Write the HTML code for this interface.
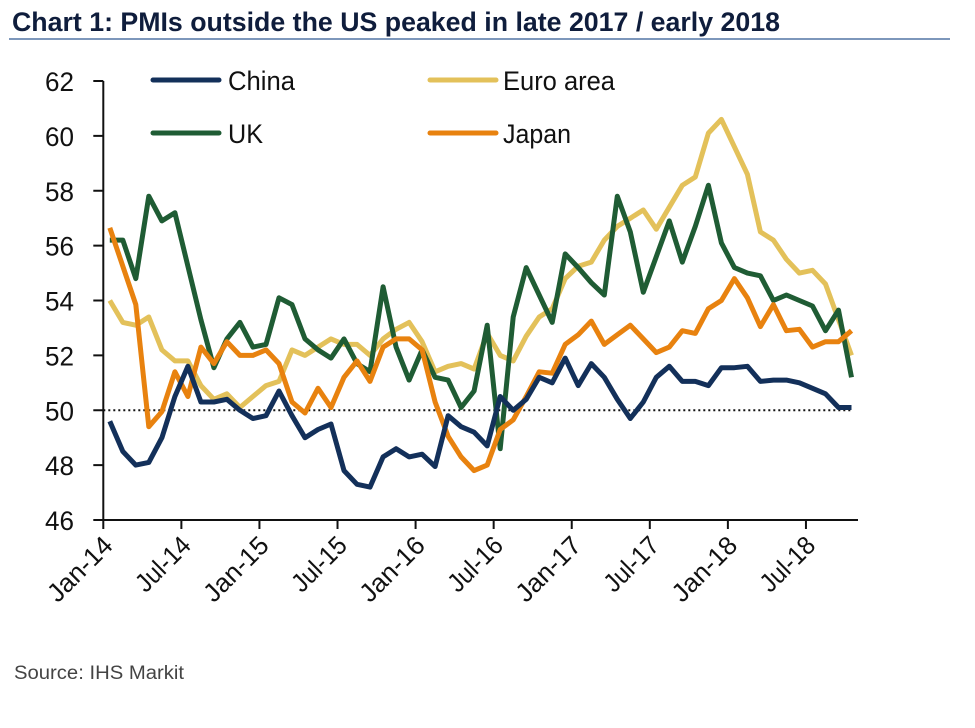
<!DOCTYPE html>
<html><head><meta charset="utf-8">
<style>
html,body{margin:0;padding:0;background:#fff;}
svg{display:block;}
text{font-family:"Liberation Sans Narrow","Liberation Sans",sans-serif;}
</style></head>
<body>
<svg id="chart" width="975" height="728" viewBox="0 0 975 728" xmlns="http://www.w3.org/2000/svg">
  <text x="12" y="31" font-size="27" font-weight="bold" fill="#0f1d3c" textLength="768" lengthAdjust="spacingAndGlyphs">Chart 1: PMIs outside the US peaked in late 2017 / early 2018</text>
  <line x1="9" y1="39" x2="950" y2="39" stroke="#7d97bb" stroke-width="2"/>
  <g id="grid"></g>
  <g id="series"></g>
  <g id="axes"></g>
  <g>
    <line x1="153" y1="80" x2="219" y2="80" stroke="#13305a" stroke-width="5" stroke-linecap="round"/>
    <text x="228" y="90" font-size="27" fill="#111" textLength="67" lengthAdjust="spacingAndGlyphs">China</text>
    <line x1="153" y1="133" x2="219" y2="133" stroke="#1f5c34" stroke-width="5" stroke-linecap="round"/>
    <text x="228" y="143" font-size="27" fill="#111" textLength="35" lengthAdjust="spacingAndGlyphs">UK</text>
    <line x1="430" y1="80" x2="496" y2="80" stroke="#e3c15a" stroke-width="5" stroke-linecap="round"/>
    <text x="503" y="90" font-size="27" fill="#111" textLength="112" lengthAdjust="spacingAndGlyphs">Euro area</text>
    <line x1="430" y1="133" x2="496" y2="133" stroke="#e8820f" stroke-width="5" stroke-linecap="round"/>
    <text x="503" y="143" font-size="27" fill="#111" textLength="68" lengthAdjust="spacingAndGlyphs">Japan</text>
  </g>
  <text x="14" y="679" font-size="19" fill="#444" textLength="170" lengthAdjust="spacingAndGlyphs">Source:  IHS Markit</text>
</svg>
<script>
const yTicks = [46,48,50,52,54,56,58,60,62];
const xTickLabels = ["Jan-14","Jul-14","Jan-15","Jul-15","Jan-16","Jul-16","Jan-17","Jul-17","Jan-18","Jul-18"];
const xTickMonths = [0,6,12,18,24,30,36,42,48,54];
const nMonths = 58;
const china = [49.6,48.5,48.0,48.1,49.0,50.5,51.6,50.3,50.3,50.4,50.0,49.7,49.8,50.7,49.8,49.0,49.3,49.5,47.8,47.3,47.2,48.3,48.6,48.3,48.4,
  47.95,49.8,49.4,49.2,48.7,50.5,50.0,50.4,51.2,51.0,51.9,50.9,51.7,51.2,50.4,49.7,50.3,
  51.2,51.6,51.05,51.05,50.9,51.55,51.55,51.6,51.05,51.1,51.1,51.0,50.8,50.6,50.1,50.1];
const euro = [54.0,53.2,53.1,53.4,52.2,51.8,51.8,50.9,50.4,50.6,50.1,50.5,50.9,51.05,52.2,52.0,52.3,52.6,52.4,52.4,52.0,52.6,52.95,53.2,52.5,
  51.4,51.6,51.7,51.5,52.8,52.0,51.8,52.7,53.4,53.7,54.8,55.25,55.4,56.2,56.7,57.0,57.3,
  56.6,57.4,58.2,58.5,60.1,60.6,59.6,58.6,56.5,56.2,55.5,55.0,55.1,54.6,53.3,52.0];
const uk = [56.2,56.2,54.8,57.8,56.9,57.2,55.25,53.3,51.55,52.6,53.2,52.3,52.4,54.1,53.85,52.6,52.2,51.9,52.6,51.7,51.4,54.5,52.3,51.1,52.2,
  51.2,51.1,50.1,50.7,53.1,48.6,53.4,55.2,54.2,53.2,55.7,55.2,54.65,54.2,57.8,56.5,54.3,
  55.6,56.9,55.4,56.7,58.2,56.1,55.2,55.0,54.9,54.0,54.2,54.0,53.8,52.9,53.65,51.2];
const japan = [56.65,55.25,53.85,49.4,49.95,51.4,50.5,52.3,51.7,52.5,52.0,52.0,52.2,51.7,50.3,49.9,50.8,50.1,51.2,51.8,51.05,52.3,52.6,52.6,52.2,
  50.3,49.05,48.3,47.8,48.0,49.3,49.65,50.5,51.4,51.35,52.4,52.75,53.25,52.4,52.75,53.1,52.6,
  52.1,52.3,52.9,52.8,53.7,54.0,54.8,54.1,53.05,53.85,52.9,52.95,52.3,52.5,52.5,52.9];

const NS = "http://www.w3.org/2000/svg";
const X0 = 103.3, X1 = 858, Y0 = 520, Y1 = 81;
const step = (X1 - X0) / nMonths;
function xPos(i){ return X0 + step*(i+0.5); }
function xEdge(m){ return X0 + step*m; }
function yPos(v){ return Y0 - (v-46)/(62-46)*(Y0-Y1); }
function mk(tag, attrs, parent){ const e=document.createElementNS(NS,tag); for(const k in attrs) e.setAttribute(k,attrs[k]); parent.appendChild(e); return e; }

const grid = document.getElementById('grid');
const ref = mk('line',{x1:X0,x2:X1-6,y1:yPos(50),y2:yPos(50),stroke:'#111','stroke-width':2,'stroke-dasharray':'2,3'},grid);



const series = document.getElementById('series');
const defs = [['china',china,'#13305a'],['uk',uk,'#1f5c34'],['euro-area',euro,'#e3c15a'],['japan',japan,'#e8820f']];
const order = [2,1,3,0];
order.forEach(k=>{
  const [name,data,col] = defs[k];
  const d = data.map((v,i)=>(i?'L':'M')+xPos(i).toFixed(1)+','+yPos(v).toFixed(1)).join(' ');
  const p = mk('path',{d:d,fill:'none',stroke:col,'stroke-width':5,'stroke-linejoin':'round','stroke-linecap':'butt'},series);
  
  
});

const axes = document.getElementById('axes');
const ya = mk('line',{x1:X0,x2:X0,y1:Y1,y2:Y0,stroke:'#111','stroke-width':2},axes);


const xa = mk('line',{x1:X0-8,x2:X1,y1:Y0,y2:Y0,stroke:'#111','stroke-width':2},axes);


yTicks.forEach(v=>{
  const y=yPos(v);
  mk('line',{x1:X0-10,x2:X0,y1:y,y2:y,stroke:'#111','stroke-width':2},axes);
  const t=mk('text',{x:74,y:y+10,'text-anchor':'end','font-size':27,fill:'#111',textLength:29,lengthAdjust:'spacingAndGlyphs'},axes);
  t.textContent=v;
  
  
});
xTickMonths.forEach((m,j)=>{
  const x=xEdge(m);
  mk('line',{x1:x,x2:x,y1:Y0,y2:Y0+9,stroke:'#111','stroke-width':2},axes);
  const ax=x+11, ay=Y0+27;
  const lbl=xTickLabels[j];
  const len = lbl.startsWith('Jan') ? 80 : 66;
  const t=mk('text',{x:ax,y:ay,'text-anchor':'end','font-size':26,fill:'#111',textLength:len,lengthAdjust:'spacingAndGlyphs',transform:'rotate(-45 '+ax+' '+ay+')'},axes);
  t.textContent=lbl;
  
  
});
</script>
</body></html>
